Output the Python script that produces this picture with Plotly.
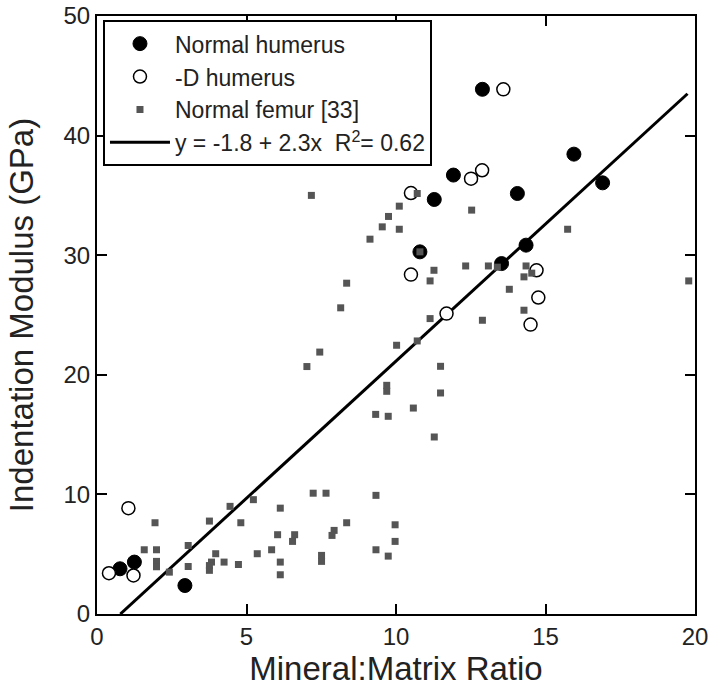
import plotly.graph_objects as go

# Normal humerus (filled circles)
nh_x = [0.77, 1.25, 2.94, 10.80, 11.28, 11.92, 12.89, 13.53, 14.06, 14.35, 15.95, 16.91]
nh_y = [3.78, 4.34, 2.38, 30.28, 34.66, 36.70, 43.87, 29.30, 35.16, 30.84, 38.45, 36.05]

# -D humerus (open circles)
dh_x = [0.40, 1.05, 1.22, 10.50, 10.50, 11.69, 12.51, 12.88, 13.59, 14.50, 14.70, 14.76]
dh_y = [3.41, 8.85, 3.22, 35.20, 28.38, 25.12, 36.40, 37.10, 43.87, 24.20, 28.74, 26.46]

# Normal femur [33] (small grey squares)
nf_x = [1.94, 1.58, 1.99, 1.99, 1.99, 2.42, 3.05, 3.05, 3.76, 4.45, 4.81, 5.23,
        3.97, 3.83, 3.76, 3.76, 4.25, 4.73, 5.36, 5.84, 6.13, 6.04, 6.13, 6.13,
        6.61, 6.54, 7.23, 7.66, 7.51, 7.51, 7.93, 7.86, 8.35, 9.33, 9.33, 9.74,
        9.97, 9.97, 9.32, 9.74, 10.58, 11.28, 9.69, 9.69, 11.49, 11.49, 10.02, 10.71,
        7.02, 7.45, 8.15, 8.35, 9.13, 9.54, 9.75, 10.11, 10.11, 7.17, 10.71,
        10.80, 11.27, 11.14, 12.33, 13.09, 13.39, 14.35, 14.28, 14.54, 13.79, 14.28,
        11.14, 12.89, 12.53, 15.74, 19.79]
nf_y = [7.63, 5.37, 5.37, 4.40, 3.95, 3.50, 5.73, 3.97, 7.77, 9.00, 7.63, 9.56,
        5.04, 4.34, 4.05, 3.65, 4.34, 4.14, 5.04, 5.37, 8.85, 6.63, 4.34, 3.28,
        6.63, 6.07, 10.10, 10.10, 4.90, 4.40, 6.99, 6.57, 7.63, 9.92, 5.37, 4.84,
        7.46, 6.07, 16.69, 16.53, 17.22, 14.80, 19.12, 18.62, 20.71, 18.48, 22.47, 22.83,
        20.69, 21.90, 25.60, 27.66, 31.34, 32.37, 33.24, 34.10, 32.17, 35.00, 35.16,
        30.28, 28.74, 27.85, 29.10, 29.10, 29.00, 29.10, 28.19, 28.50, 27.15, 25.40,
        24.70, 24.56, 33.77, 32.17, 27.85]

# Regression line y = -1.8 + 2.3x (end points)
fit_x = [0.78, 19.75]
fit_y = [0.0, 43.5]

x_ticks = [0, 5, 10, 15, 20]
y_ticks = [0, 10, 20, 30, 40, 50]

FONT = "Liberation Sans, Arial, Helvetica, sans-serif"
TXT = "#222222"

fig = go.Figure()

fig.add_trace(go.Scatter(
    x=fit_x, y=fit_y, mode="lines",
    line=dict(color="black", width=3),
    name="y = -1.8 + 2.3x  R<sup>2</sup>= 0.62",
    legendrank=4,
))
fig.add_trace(go.Scatter(
    x=nh_x, y=nh_y, mode="markers",
    marker=dict(symbol="circle", size=14, color="black",
                line=dict(color="black", width=1)),
    name="Normal humerus", legendrank=1,
))
fig.add_trace(go.Scatter(
    x=dh_x, y=dh_y, mode="markers",
    marker=dict(symbol="circle", size=13, color="white",
                line=dict(color="black", width=1.5)),
    name="-D humerus", legendrank=2,
))
fig.add_trace(go.Scatter(
    x=nf_x, y=nf_y, mode="markers",
    marker=dict(symbol="square", size=7, color="#555555",
                line=dict(width=0)),
    name="Normal femur [33]", legendrank=3,
))

axis_common = dict(
    showgrid=False, zeroline=False, automargin=False,
    showline=True, linecolor="black", linewidth=2,
    mirror="ticks", ticks="inside", ticklen=10, tickwidth=2,
    tickcolor="black",
    tickfont=dict(family=FONT, size=24, color=TXT),
)

fig.update_layout(
    width=710, height=688,
    margin=dict(l=97, r=15, t=16, b=74),
    paper_bgcolor="white", plot_bgcolor="white",
    font=dict(family=FONT, color=TXT),
    showlegend=True,
    legend=dict(
        x=0.01, y=0.993, xanchor="left", yanchor="top",
        bgcolor="white", bordercolor="black", borderwidth=2,
        font=dict(family=FONT, size=23, color=TXT),
        itemwidth=60,
    ),
    xaxis=dict(range=[0, 20], tickvals=x_ticks,
               title=dict(text="Mineral:Matrix Ratio",
                          font=dict(family=FONT, size=33, color=TXT),
                          standoff=8),
               **axis_common),
    yaxis=dict(range=[0, 50], tickvals=y_ticks,
               title=dict(text="Indentation Modulus (GPa)",
                          font=dict(family=FONT, size=33, color=TXT),
                          standoff=20),
               **axis_common),
)

fig.write_html(
    "out.html",
    config={"displayModeBar": False},
    post_script="document.body.style.margin='0';document.body.style.padding='0';",
)
